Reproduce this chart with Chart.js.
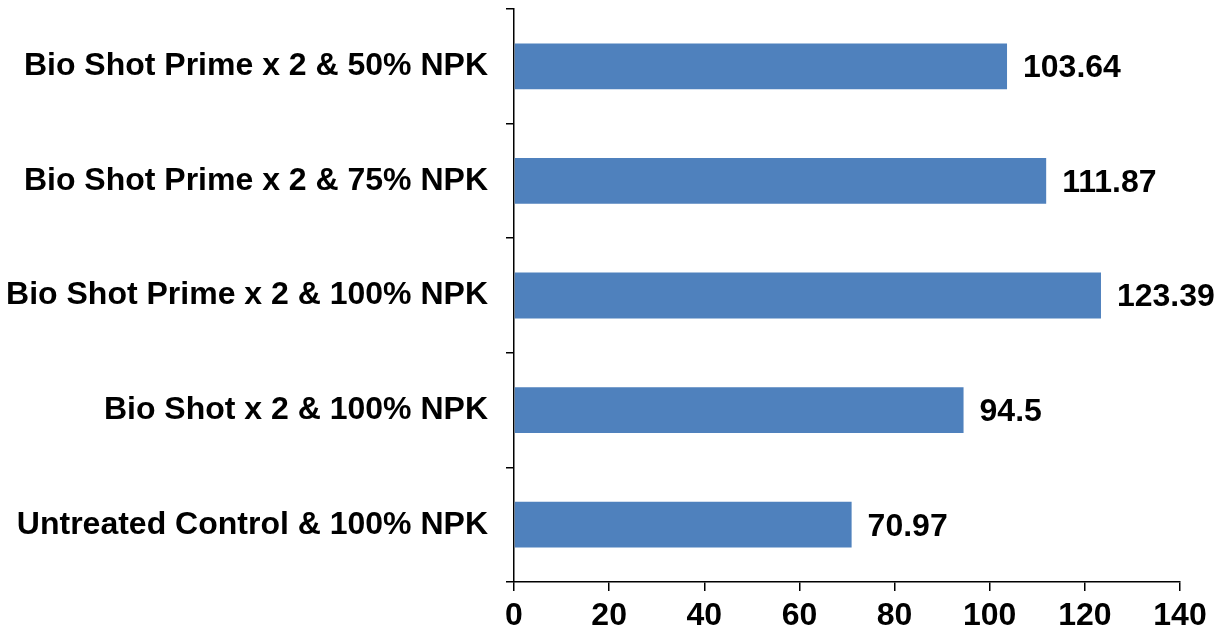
<!DOCTYPE html>
<html>
<head>
<meta charset="utf-8">
<script src="https://cdn.jsdelivr.net/npm/chart.js@4/dist/chart.umd.min.js"></script>
<style>
html,body{margin:0;padding:0;background:#fff;}
#wrap{width:1225px;height:636px;position:relative;}
</style>
</head>
<body>
<div id="wrap"><canvas id="c" width="1225" height="636"></canvas></div>
<script>
const categories = [
  "Bio Shot Prime x 2 & 50% NPK",
  "Bio Shot Prime x 2 & 75% NPK",
  "Bio Shot Prime x 2 & 100% NPK",
  "Bio Shot x 2 & 100% NPK",
  "Untreated Control & 100% NPK"
];
const values = [103.64, 111.87, 123.39, 94.5, 70.97];
const valueLabels = ["103.64", "111.87", "123.39", "94.5", "70.97"];
const xTicks = [0, 20, 40, 60, 80, 100, 120, 140];

const FONT = "'Liberation Sans', Arial, sans-serif";

const valueLabelPlugin = {
  id: 'valueLabels',
  afterDatasetsDraw(chart) {
    const ctx = chart.ctx;
    const meta = chart.getDatasetMeta(0);
    ctx.save();
    ctx.font = "bold 32px " + FONT;
    ctx.fillStyle = "#000";
    ctx.textAlign = "left";
    ctx.textBaseline = "middle";
    meta.data.forEach((bar, i) => {
      ctx.fillText(valueLabels[i], bar.x + 16, bar.y + 2);
    });
    ctx.restore();
  }
};

new Chart(document.getElementById('c'), {
  type: 'bar',
  data: {
    labels: categories,
    datasets: [{
      data: values,
      backgroundColor: '#4F81BD',
      borderWidth: 0,
      barPercentage: 0.4,
      categoryPercentage: 1.0
    }]
  },
  options: {
    indexAxis: 'y',
    responsive: false,
    animation: false,
    devicePixelRatio: 1,
    layout: { padding: { top: 9, right: 45, left: 0, bottom: 0 } },
    plugins: { legend: { display: false }, tooltip: { enabled: false } },
    scales: {
      x: {
        min: 0, max: 140,
        afterBuildTicks(scale) { scale.ticks = xTicks.map(v => ({ value: v })); },
        afterFit(scale) { scale.height = 54; scale.paddingLeft = 0; scale.paddingRight = 0; },
        grid: { display: true, drawOnChartArea: false, drawTicks: true, tickLength: 9, color: '#000', lineWidth: 1.5 },
        border: { display: true, color: '#000', width: 1.5 },
        ticks: { color: '#000', font: { family: FONT, size: 32, weight: 'bold' }, padding: 6, maxRotation: 0 }
      },
      y: {
        afterFit(scale) { scale.width = 514; scale.paddingTop = 0; scale.paddingBottom = 0; },
        grid: { display: true, drawOnChartArea: false, drawTicks: true, tickLength: 8, color: '#000', lineWidth: 1.5, offset: true },
        border: { display: true, color: '#000', width: 1.5 },
        ticks: { color: '#000', font: { family: FONT, size: 32, weight: 'bold' }, padding: 18 }
      }
    }
  },
  plugins: [valueLabelPlugin]
});
</script>
</body>
</html>
